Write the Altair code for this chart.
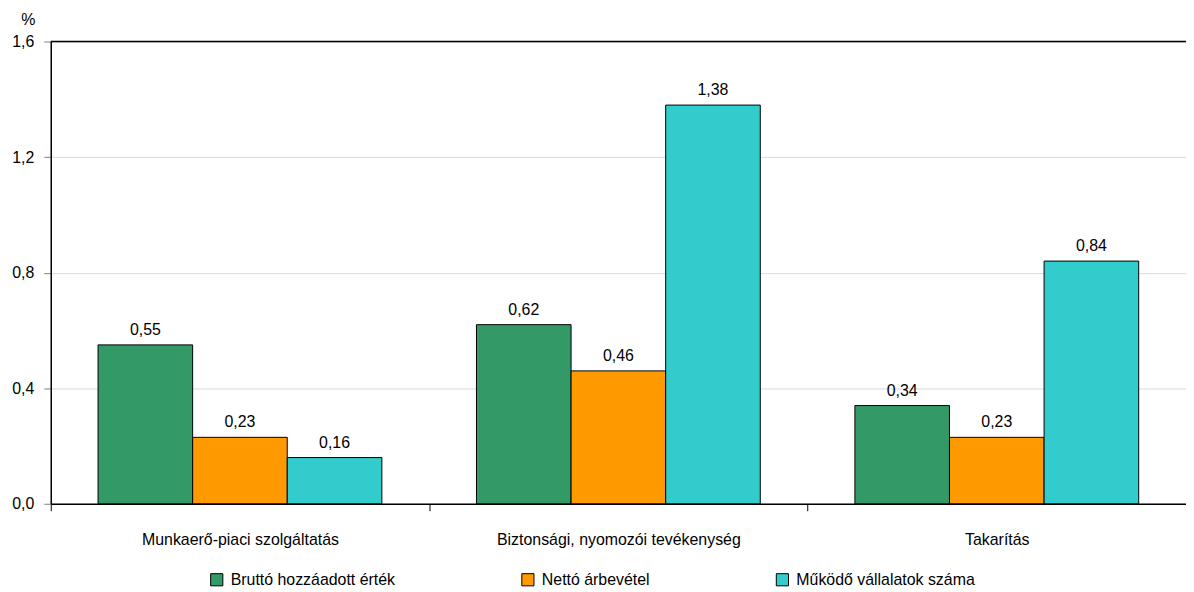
import altair as alt
import pandas as pd

categories = ["Munkaerő-piaci szolgáltatás", "Biztonsági, nyomozói tevékenység", "Takarítás"]
series = ["Bruttó hozzáadott érték", "Nettó árbevétel", "Működő vállalatok száma"]
brutto = [0.55, 0.62, 0.34]
netto = [0.23, 0.46, 0.23]
mukodo = [0.16, 1.38, 0.84]
colors = ["#339966", "#FF9900", "#33CCCC"]
y_ticks = [0.0, 0.4, 0.8, 1.2, 1.6]

rows = []
for s, vals in zip(series, [brutto, netto, mukodo]):
    for c, v in zip(categories, vals):
        rows.append({"cat": c, "series": s, "value": v})
df = pd.DataFrame(rows)

FONT = "Liberation Sans"
FS = 16

x_enc = alt.X(
    "cat:N", sort=categories, title=None,
    scale=alt.Scale(paddingInner=0, paddingOuter=0),
    axis=alt.Axis(labelAngle=0, labelFontSize=FS, labelFont=FONT, labelColor="black",
                  domainColor="black", domainWidth=1.5, tickColor="black", tickSize=7,
                  tickBand="extent", labelPadding=21, labelLimit=500, grid=False),
)
xo_enc = alt.XOffset("series:N", sort=series,
                     scale=alt.Scale(paddingInner=0, paddingOuter=0.5))
y_enc = alt.Y(
    "value:Q", title="%",
    scale=alt.Scale(domain=[0, 1.6], nice=False, zero=True),
    axis=alt.Axis(values=y_ticks, labelExpr="replace(format(datum.value, '.1f'), '.', ',')",
                  labelFontSize=FS, labelFont=FONT, labelColor="black", labelPadding=10,
                  domainColor="black", domainWidth=1.5, tickColor="#808080", tickSize=7,
                  grid=True, gridColor="#d9d9d9", gridWidth=1,
                  titleAngle=0, titleX=-23, titleY=-22, titleAlign="center",
                  titleBaseline="middle", titleFontSize=FS, titleFont=FONT,
                  titleFontWeight="normal", titleColor="black"),
)

base = alt.Chart(df)

bars = base.mark_bar(stroke="black", strokeWidth=1).encode(
    x=x_enc, xOffset=xo_enc, y=y_enc,
    color=alt.Color("series:N", sort=series,
                    scale=alt.Scale(domain=series, range=colors),
                    legend=alt.Legend(title=None, orient="none", direction="horizontal",
                                      legendX=159, legendY=533, symbolType="square",
                                      symbolSize=150, symbolStrokeColor="black",
                                      symbolStrokeWidth=1, symbolOpacity=1,
                                      labelFontSize=FS, labelFont=FONT, labelColor="black",
                                      columnPadding=124, labelOffset=6, labelLimit=400)),
)

labels = base.transform_calculate(
    label="replace(format(datum.value, '.2f'), '.', ',')"
).mark_text(baseline="bottom", dy=-7, fontSize=FS, font=FONT, color="black").encode(
    x=alt.X("cat:N", sort=categories), xOffset=alt.XOffset("series:N", sort=series),
    y="value:Q", text="label:N",
)

top_rule = alt.Chart(pd.DataFrame({"v": [1.6]})).mark_rule(color="black", strokeWidth=1.5).encode(
    y=alt.Y("v:Q")
)

chart = alt.layer(bars, labels, top_rule).properties(
    width=1142, height=465,
    autosize=alt.AutoSizeParams(type="none"),
    padding={"left": 43, "top": 32, "right": 0, "bottom": 84},
).configure_view(stroke=None).configure(background="white")

chart.save("out.html", embed_options={"renderer": "svg", "actions": False})
